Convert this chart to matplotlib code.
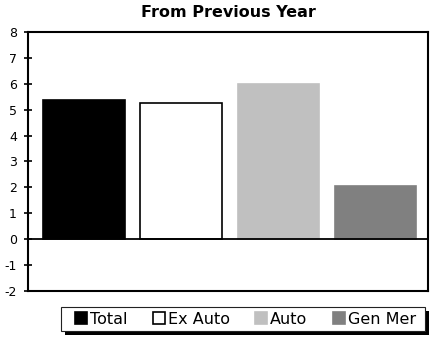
import matplotlib.pyplot as plt
from matplotlib.patches import Patch, Rectangle

# Datos
categorias = ["Total", "Ex Auto", "Auto", "Gen Mer"]
valores = [5.37, 5.25, 5.98, 2.05]
colores = ["#000000", "#ffffff", "#c0c0c0", "#808080"]
bordes = ["#000000", "#000000", "#c0c0c0", "#808080"]
yticks = [-2, -1, 0, 1, 2, 3, 4, 5, 6, 7, 8]

plt.rcParams['font.family'] = ['DejaVu Sans']
plt.rcParams['axes.unicode_minus'] = False

W, H = 436, 339
fig = plt.figure(figsize=(W / 100, H / 100), dpi=100)
ax = fig.add_axes([0.0642, 0.1416, 0.9175, 0.764])

x = range(len(categorias))
ax.bar(x, valores, width=0.84, color=colores, edgecolor=bordes, linewidth=1.2)
ax.axhline(0, color="black", linewidth=1.3)

ax.set_xlim(-0.576, 3.54)
ax.set_ylim(-2, 8)
ax.set_yticks(yticks)
ax.set_xticks([])
ax.tick_params(axis="y", direction="inout", length=6, width=1.2, labelsize=9, pad=5)
for s in ax.spines.values():
    s.set_linewidth(1.5)

ax.set_title("From Previous Year", fontsize=11.5, fontweight="bold", pad=11)

# Caja de la leyenda con sombra negra
x0, x1, ytop, ybot = 61, 425, 307, 331
fig.patches.append(Rectangle((x0 / W + 4 / W, 1 - ybot / H - 4 / H), (x1 - x0) / W, (ybot - ytop) / H,
                             transform=fig.transFigure, facecolor="black", edgecolor="none"))
fig.patches.append(Rectangle((x0 / W, 1 - ybot / H), (x1 - x0) / W, (ybot - ytop) / H,
                             transform=fig.transFigure, facecolor="white", edgecolor="#222222",
                             linewidth=0.8))

handles = [Patch(facecolor=c, edgecolor=b, linewidth=1.2) for c, b in zip(colores, bordes)]
fig.legend(handles, categorias, ncol=4, loc="center", mode="expand",
           bbox_to_anchor=(75 / W, 1 - 331 / H, 341 / W, 24 / H),
           fontsize=11.5, frameon=False, handlelength=0.75, handleheight=0.75,
           handletextpad=0.2, columnspacing=1.5, borderpad=0, borderaxespad=0)

fig.savefig("out.png", dpi=100)
